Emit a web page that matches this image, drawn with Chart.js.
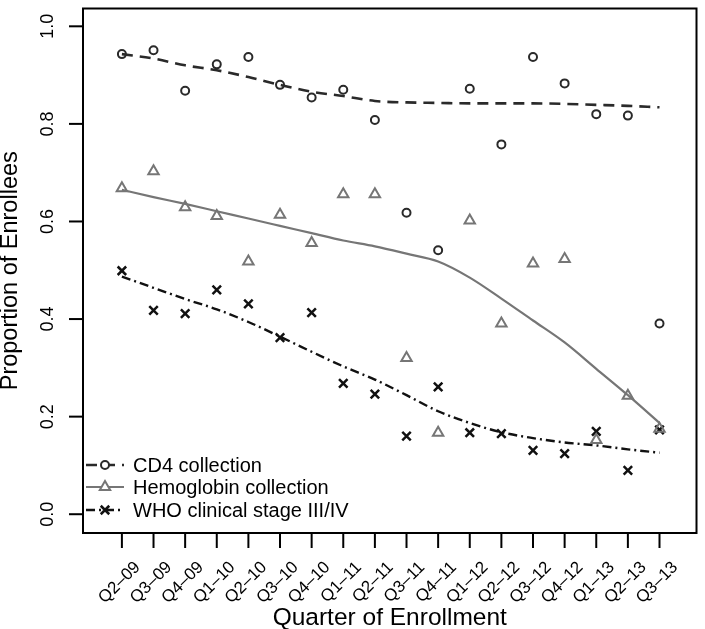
<!DOCTYPE html>
<html>
<head>
<meta charset="utf-8">
<title>Proportion of Enrollees by Quarter of Enrollment</title>
<script src="https://cdn.jsdelivr.net/npm/chart.js@4.4.1/dist/chart.umd.min.js"></script>
<style>
  html, body { margin: 0; padding: 0; background: #fff; }
  #chart { display: block; }
</style>
</head>
<body>
<canvas id="chart" width="705" height="629"></canvas>
<script>
// Quarterly proportions (points) and their smoothed trends (lines)
const quarters = ['Q2–09', 'Q3–09', 'Q4–09', 'Q1–10', 'Q2–10', 'Q3–10', 'Q4–10', 'Q1–11', 'Q2–11',
                  'Q3–11', 'Q4–11', 'Q1–12', 'Q2–12', 'Q3–12', 'Q4–12', 'Q1–13', 'Q2–13', 'Q3–13'];

const cd4 = [0.943, 0.951, 0.868, 0.922, 0.937, 0.880, 0.854, 0.870, 0.808,
             0.618, 0.541, 0.872, 0.758, 0.937, 0.883, 0.820, 0.817, 0.391];
const cd4Fit = [0.943, 0.934, 0.920, 0.910, 0.896, 0.880, 0.866, 0.857, 0.847,
                0.844, 0.843, 0.842, 0.842, 0.842, 0.841, 0.839, 0.837, 0.834];

const hemoglobin = [0.668, 0.703, 0.629, 0.611, 0.518, 0.614, 0.556, 0.656, 0.656,
                    0.320, 0.167, 0.602, 0.391, 0.514, 0.523, 0.152, 0.243, 0.175];
const hemoglobinFit = [0.665, 0.650, 0.636, 0.621, 0.606, 0.591, 0.576, 0.561, 0.549,
                       0.534, 0.518, 0.485, 0.442, 0.397, 0.352, 0.298, 0.244, 0.187];

const whoStage = [0.499, 0.418, 0.411, 0.460, 0.431, 0.362, 0.413, 0.268, 0.246,
                  0.160, 0.261, 0.167, 0.165, 0.131, 0.124, 0.170, 0.090, 0.173];
const whoStageFit = [0.487, 0.464, 0.441, 0.420, 0.394, 0.364, 0.333, 0.303, 0.276,
                     0.244, 0.211, 0.187, 0.168, 0.156, 0.147, 0.141, 0.133, 0.126];

const yTicks = [0.0, 0.2, 0.4, 0.6, 0.8, 1.0];
const legendLabels = ['CD4 collection', 'Hemoglobin collection', 'WHO clinical stage III/IV'];

const FONT = '"Liberation Sans", Arial, Helvetica, sans-serif';

function toPoints(values) {
  return values.map((v, i) => ({ x: i, y: v }));
}

// Styles for the three series
const cd4Style = { color: '#2a2a2a', pointStyle: 'circle', radius: 4, pointWidth: 2, dash: [11, 7], lineWidth: 2.6 };
const hbStyle = { color: '#767676', pointStyle: 'triangle', radius: 6, pointWidth: 2, dash: [], lineWidth: 2.2 };
const whoStyle = { color: '#111111', pointStyle: 'crossRot', radius: 6, pointWidth: 2.5, dash: [9, 4, 2, 4], lineWidth: 2.4 };

function pointSet(values, s) {
  return {
    data: toPoints(values),
    showLine: false,
    pointStyle: s.pointStyle,
    pointRadius: s.radius,
    pointBorderWidth: s.pointWidth,
    pointBorderColor: s.color,
    pointBackgroundColor: 'rgba(0,0,0,0)',
    borderColor: s.color
  };
}

function fitSet(values, s) {
  return {
    data: toPoints(values),
    showLine: true,
    pointRadius: 0,
    borderColor: s.color,
    borderWidth: s.lineWidth,
    borderDash: s.dash,
    cubicInterpolationMode: 'monotone',
    fill: false
  };
}

// R-style box, ticks, labels and legend
const rStylePlugin = {
  id: 'rStyle',
  beforeDraw(chart) {
    const ctx = chart.ctx;
    ctx.save();
    ctx.fillStyle = '#fff';
    ctx.fillRect(0, 0, chart.width, chart.height);
    ctx.restore();
  },
  afterDraw(chart) {
    const { ctx, chartArea: a, scales: { x, y } } = chart;
    ctx.save();
    ctx.strokeStyle = '#000';
    ctx.fillStyle = '#000';
    ctx.lineWidth = 2;
    ctx.setLineDash([]);

    // plot box
    ctx.strokeRect(a.left, a.top, a.right - a.left, a.bottom - a.top);

    // y ticks + labels (rotated, as R draws them)
    ctx.font = '18px ' + FONT;
    yTicks.forEach(v => {
      const py = y.getPixelForValue(v);
      ctx.beginPath();
      ctx.moveTo(a.left - 14, py);
      ctx.lineTo(a.left, py);
      ctx.stroke();
      ctx.save();
      ctx.translate(48, py);
      ctx.rotate(-Math.PI / 2);
      ctx.textAlign = 'center';
      ctx.textBaseline = 'middle';
      ctx.fillText(v.toFixed(1), 0, 0);
      ctx.restore();
    });

    // x ticks + 45 degree labels
    ctx.font = '17px ' + FONT;
    quarters.forEach((q, i) => {
      const px = x.getPixelForValue(i);
      ctx.beginPath();
      ctx.moveTo(px, a.bottom);
      ctx.lineTo(px, a.bottom + 15);
      ctx.stroke();
      ctx.save();
      ctx.translate(px + 19, 568);
      ctx.rotate(-Math.PI / 4);
      ctx.textAlign = 'right';
      ctx.textBaseline = 'alphabetic';
      ctx.fillText(q, 0, 0);
      ctx.restore();
    });

    // axis titles
    ctx.font = '24.5px ' + FONT;
    ctx.textAlign = 'center';
    ctx.textBaseline = 'alphabetic';
    ctx.fillText('Quarter of Enrollment', (a.left + a.right) / 2, 625);
    ctx.font = '23.5px ' + FONT;
    ctx.save();
    ctx.translate(11, (a.top + a.bottom) / 2);
    ctx.rotate(-Math.PI / 2);
    ctx.textBaseline = 'middle';
    ctx.fillText('Proportion of Enrollees', 0, 0);
    ctx.restore();

    // legend, bottom left inside the box
    const rows = [465, 487, 510];
    [cd4Style, hbStyle, whoStyle].forEach((s, i) => {
      const ly = rows[i];
      ctx.save();
      ctx.strokeStyle = s.color;
      ctx.lineWidth = s.lineWidth;
      ctx.setLineDash(s.dash);
      ctx.beginPath();
      ctx.moveTo(86, ly);
      ctx.lineTo(124, ly);
      ctx.stroke();
      ctx.setLineDash([]);
      ctx.lineWidth = s.pointWidth;
      ctx.fillStyle = '#fff';
      Chart.helpers.drawPoint(ctx, { pointStyle: s.pointStyle, radius: s.radius, rotation: 0, borderWidth: s.pointWidth }, 105, ly);
      ctx.restore();
      ctx.font = '20px ' + FONT;
      ctx.fillStyle = '#000';
      ctx.textAlign = 'left';
      ctx.textBaseline = 'middle';
      ctx.fillText(legendLabels[i], 133, ly + 1);
    });

    ctx.restore();
  }
};

new Chart(document.getElementById('chart'), {
  type: 'scatter',
  data: {
    datasets: [
      pointSet(cd4, cd4Style),
      pointSet(hemoglobin, hbStyle),
      pointSet(whoStage, whoStyle),
      fitSet(cd4Fit, cd4Style),
      fitSet(hemoglobinFit, hbStyle),
      fitSet(whoStageFit, whoStyle)
    ]
  },
  options: {
    responsive: false,
    animation: false,
    devicePixelRatio: 1,
    events: [],
    layout: { padding: { top: 2, right: 2, left: 0, bottom: 0 } },
    plugins: {
      legend: { display: false },
      tooltip: { enabled: false }
    },
    scales: {
      x: {
        type: 'linear',
        min: -1.23,
        max: 18.17,
        grid: { display: false },
        border: { display: false },
        ticks: { display: false },
        afterFit(scale) { scale.height = 96; }
      },
      y: {
        type: 'linear',
        min: -0.0385,
        max: 1.0365,
        grid: { display: false },
        border: { display: false },
        ticks: { display: false },
        afterFit(scale) { scale.width = 83; }
      }
    }
  },
  plugins: [rStylePlugin]
});
</script>
</body>
</html>
